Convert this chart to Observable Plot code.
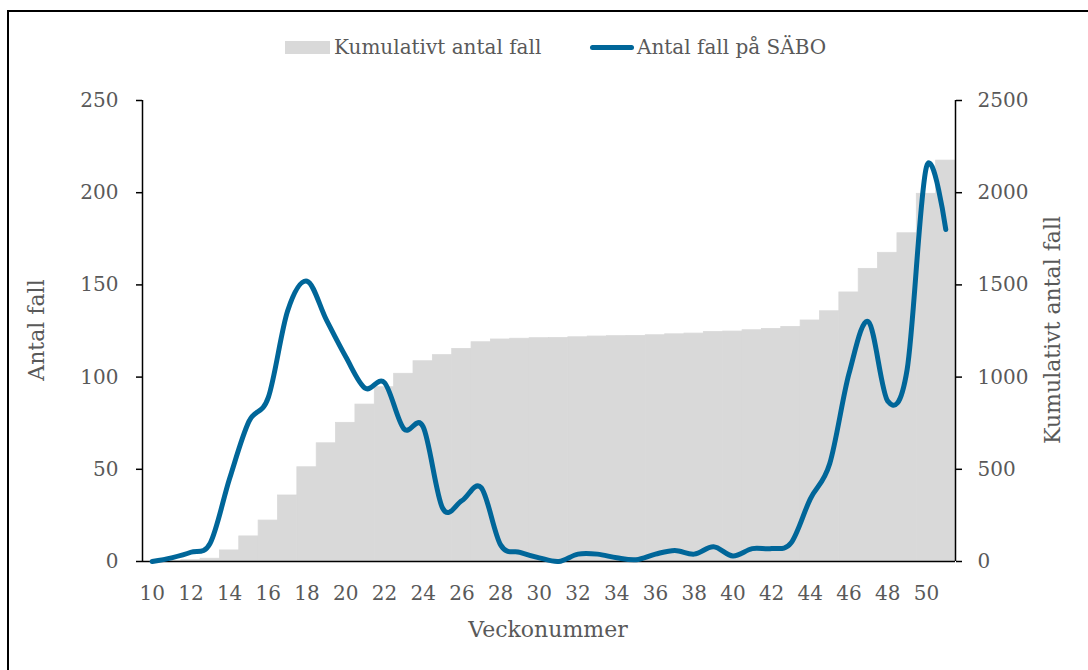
<!DOCTYPE html>
<html><head><meta charset="utf-8">
<script src="https://cdn.jsdelivr.net/npm/d3@7"></script>
<script src="https://cdn.jsdelivr.net/npm/@observablehq/plot@0.6"></script>
<style>
body{margin:0;background:#fff;}
#wrap{position:relative;width:1088px;height:670px;overflow:hidden;font-family:"DejaVu Serif",serif;color:#595959;}
#border{position:absolute;left:7px;top:10px;width:1200px;height:800px;border-left:2px solid #000;border-top:2px solid #000;box-sizing:border-box;}
.lg{position:absolute;font-size:20px;line-height:24px;white-space:nowrap;}
.t{position:absolute;font-size:22px;white-space:nowrap;line-height:26px;}
#chart{position:absolute;left:0;top:0;}
</style></head>
<body>
<div id="wrap">
  <div id="border"></div>
  <div id="chart"></div>
  <div style="position:absolute;left:285px;top:41px;width:45px;height:13px;background:#d9d9d9"></div>
  <div class="lg" style="left:334px;top:35px">Kumulativt antal fall</div>
  <div style="position:absolute;left:590px;top:45px;width:44px;height:5px;background:#006699;border-radius:3px"></div>
  <div class="lg" style="left:637px;top:35px">Antal fall på SÄBO</div>
  <div class="t" style="left:37px;top:330px;transform:translate(-50%,-50%) rotate(-90deg)">Antal fall</div>
  <div class="t" style="left:1053px;top:330px;transform:translate(-50%,-50%) rotate(-90deg)">Kumulativt antal fall</div>
  <div class="t" style="left:548px;top:630px;transform:translate(-50%,-50%)">Veckonummer</div>
</div>
<script>
const weeks = [10,11,12,13,14,15,16,17,18,19,20,21,22,23,24,25,26,27,28,29,30,31,32,33,34,35,36,37,38,39,40,41,42,43,44,45,46,47,48,49,50,51];
const weekly = [0,2,5,10,45,76,89,136,152,131,111,94,97,72,73,29,33,40,9,5,2,0,4,4,2,1,4,6,4,8,3,7,7,10,34,53,102,130,87,104,214,180];
const cumulative = [0,2,7,15,60,136,222,358,511,641,752,851,945,1018,1086,1119,1153,1189,1204,1208,1211,1212,1216,1220,1222,1223,1227,1232,1236,1244,1247,1254,1261,1272,1307,1357,1459,1587,1674,1780,1994,2174];
const xTicks = [10,12,14,16,18,20,22,24,26,28,30,32,34,36,38,40,42,44,46,48,50];
const leftTicks = [0,50,100,150,200,250];
const rightTicks = [0,500,1000,1500,2000,2500];

const rows = weeks.map((w,i)=>({week:w, weekly:weekly[i], cum:cumulative[i]}));
const font = "DejaVu Serif, serif";
const plot = Plot.plot({
  width:1088, height:670,
  marginLeft:142, marginRight:133, marginTop:100, marginBottom:109,
  style:{fontFamily:font, fontSize:"20px", color:"#595959", background:"transparent", overflow:"visible"},
  x:{type:"linear", domain:[9.5,51.5], axis:null},
  y:{domain:[0,250], axis:null},
  marks:[
    Plot.rectY(rows,{x1:d=>d.week-0.5, x2:d=>d.week+0.5, y:d=>d.cum/10, fill:"#d9d9d9", stroke:"#d9d9d9", strokeWidth:0.8}),
    Plot.ruleY([0],{stroke:"#000", strokeWidth:1.5}),
    Plot.ruleX([9.5,51.5],{stroke:"#000", strokeWidth:1.5}),
    Plot.axisX({ticks:xTicks, tickSize:0, tickPadding:24, tickFormat:d=>String(d), label:null, fill:"#595959", fontSize:20}),
    Plot.axisY({anchor:"left", ticks:leftTicks, tickSize:6, tickPadding:18, tickFormat:d=>String(d), label:null, stroke:"#000", strokeWidth:1.5, fill:"#595959", fontSize:20}),
    Plot.axisY({anchor:"right", ticks:rightTicks.map(v=>v/10), tickSize:6, tickPadding:16, tickFormat:d=>String(Math.round(d*10)), label:null, stroke:"#000", strokeWidth:1.5, fill:"#595959", fontSize:20}),
    Plot.lineY(rows,{x:"week", y:"weekly", stroke:"#006699", strokeWidth:5, curve:"cardinal", strokeLinecap:"round"})
  ]
});
document.getElementById("chart").appendChild(plot);
</script>
</body></html>
